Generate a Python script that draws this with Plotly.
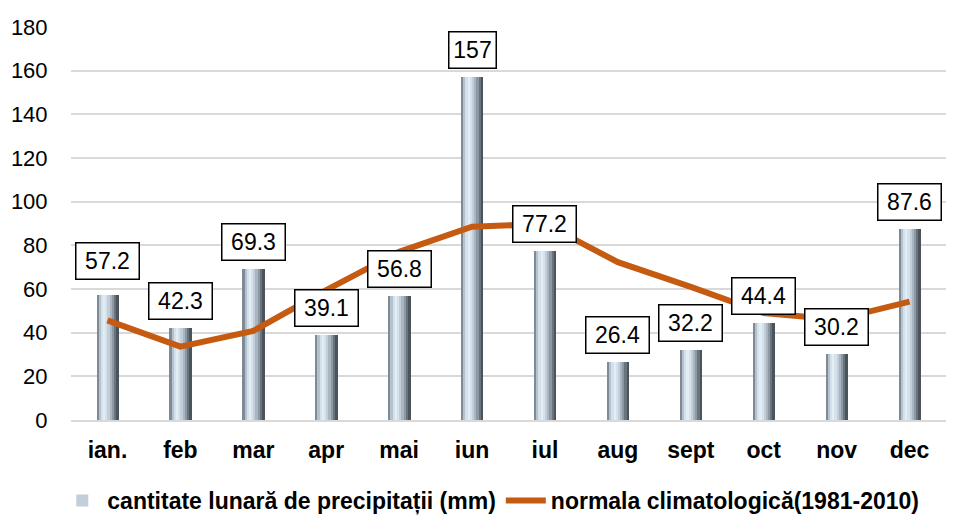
import plotly.graph_objects as go

months = ["ian.", "feb", "mar", "apr", "mai", "iun", "iul", "aug", "sept", "oct", "nov", "dec"]
precip = [57.2, 42.3, 69.3, 39.1, 56.8, 157, 77.2, 26.4, 32.2, 44.4, 30.2, 87.6]
normal = [45.6, 33.6, 40.8, 59.5, 77.0, 88.5, 89.8, 72.3, 61.0, 49.0, 46.0, 54.2]
precip_name = "cantitate lunară de precipitații (mm)"
normal_name = "normala climatologică(1981-2010)"
y_ticks = [0, 20, 40, 60, 80, 100, 120, 140, 160, 180]

FONT = "Liberation Sans, Arial, sans-serif"

fig = go.Figure()

# metallic cylinder look: vertical strips of each bar, left to right
bar_w = 0.30
strip_colors = ["#7e8b96", "#b4c2ce", "#d4e0ea", "#e3edf5", "#d6e2eb",
                "#c2cfda", "#a9b6c1", "#8c98a3", "#6a747d", "#4c545b"]
n = len(strip_colors)
sw = bar_w / n
for i, c in enumerate(strip_colors):
    fig.add_trace(go.Bar(
        x=months, y=precip,
        width=sw * 1.2, offset=-bar_w / 2 + i * sw,
        marker=dict(color=c, line=dict(width=0)),
        name=precip_name, showlegend=(i == 5),
        legendgroup="p", hoverinfo="skip" if i != 5 else None,
    ))

fig.add_trace(go.Scatter(
    x=months, y=normal, mode="lines",
    line=dict(color="#c55a11", width=6),
    name=normal_name,
))

shifts = {0: 7}
for i, (m, v) in enumerate(zip(months, precip)):
    txt = f"{v:g}"
    fig.add_annotation(
        x=m, y=v, text=txt, showarrow=False,
        yanchor="bottom", yshift=8 + shifts.get(i, 0),
        font=dict(family=FONT, size=23, color="black"),
        bgcolor="white", bordercolor="black", borderwidth=1.5,
        borderpad=2, width=14 * len(txt) if "." not in txt else 58, height=31,
    )

fig.update_layout(
    width=953, height=516,
    margin=dict(l=71, r=7, t=27, b=96),
    paper_bgcolor="white", plot_bgcolor="white",
    barmode="overlay", bargap=0,
    font=dict(family=FONT, color="black"),
    showlegend=True,
    legend=dict(
        orientation="h", xref="container", x=0.515, xanchor="center",
        yref="container", y=0.03, yanchor="middle",
        font=dict(family=FONT, size=23, color="black", weight="bold"),
        itemwidth=40, traceorder="normal", tracegroupgap=0,
    ),
)
fig.update_xaxes(
    type="category", categoryorder="array", categoryarray=months,
    showgrid=False, showline=True, linecolor="#d9d9d9", linewidth=2,
    ticks="outside", ticklen=8, tickcolor="rgba(0,0,0,0)",
    tickfont=dict(family=FONT, size=23, color="black", weight="bold"),
    automargin=False,
)
fig.update_yaxes(
    range=[0, 180], tickvals=y_ticks,
    showgrid=True, gridcolor="#d9d9d9", gridwidth=2,
    zeroline=False, showline=False,
    ticks="outside", ticklen=18, tickcolor="rgba(0,0,0,0)",
    tickfont=dict(family=FONT, size=22, color="black"),
    automargin=False,
)

fig.write_html(
    "out.html",
    config={"displayModeBar": False},
    post_script="document.body.style.margin='0';document.body.style.padding='0';document.body.style.overflow='hidden';",
)
